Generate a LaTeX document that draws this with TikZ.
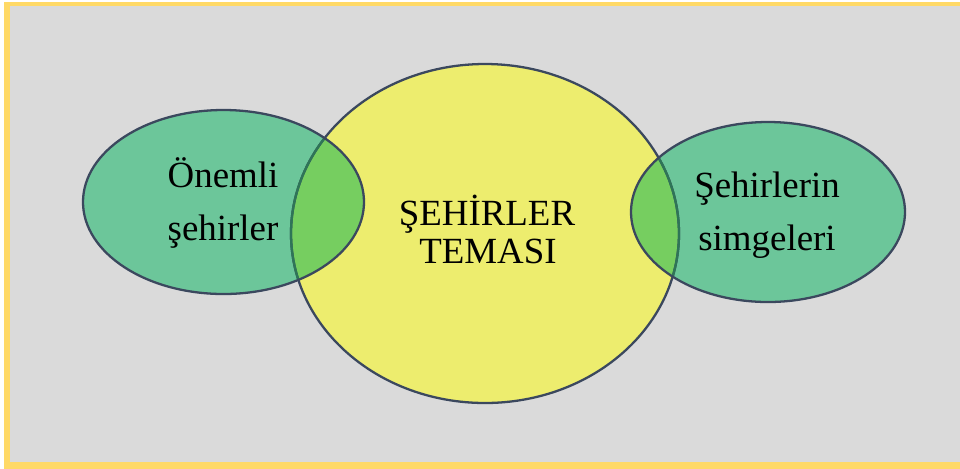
\documentclass[tikz,border=0pt]{standalone}
\usepackage{fontspec}
\setmainfont{Liberation Serif}
\definecolor{framegold}{HTML}{FFD966}
\definecolor{panelgray}{HTML}{DADADA}
\definecolor{themeyellow}{HTML}{EDED6E}
\definecolor{topicgreen}{HTML}{6CC69A}
\definecolor{lensgreen}{HTML}{76CE60}
\definecolor{edgeblue}{HTML}{3B485E}
\definecolor{edgegreen}{HTML}{2E7557}
\tikzset{
  outline/.style={draw=edgeblue, line width=1.3pt},
  hidden edge/.style={draw=edgegreen, line width=1.3pt},
  word/.style={font=\fontsize{21}{21}\selectfont, anchor=base, inner sep=0pt}
}
\begin{document}
\begin{tikzpicture}[x=0.02cm, y=-0.02cm]
  \useasboundingbox (0,0) rectangle (960,468);
  % panel and its gold band on the left, top and bottom
  \fill[white] (0,0) rectangle (1000,480);
  \fill[panelgray] (10,6) rectangle (1000,462);
  \fill[framegold] (4,1.5) rectangle (1000,6);
  \fill[framegold] (4,1.5) rectangle (10,480);
  \fill[framegold] (4,462) rectangle (1000,480);
  % shape centres
  \coordinate (theme) at (485,233.5);
  \coordinate (cities) at (223.5,202);
  \coordinate (symbols) at (768,212);
  % fills
  \fill[themeyellow] (theme) ellipse [x radius=194, y radius=169.5];
  \fill[topicgreen] (cities) ellipse [x radius=140.5, y radius=92];
  \fill[topicgreen] (symbols) ellipse [x radius=137, y radius=90];
  % overlap lenses
  \begin{scope}
    \clip (theme) ellipse [x radius=194, y radius=169.5];
    \fill[lensgreen] (cities) ellipse [x radius=140.5, y radius=92];
    \fill[lensgreen] (symbols) ellipse [x radius=137, y radius=90];
  \end{scope}
  % outlines
  \draw[outline] (theme) ellipse [x radius=194, y radius=169.5];
  \begin{scope}
    \clip (cities) ellipse [x radius=140.5, y radius=92];
    \draw[hidden edge] (theme) ellipse [x radius=194, y radius=169.5];
  \end{scope}
  \begin{scope}
    \clip (symbols) ellipse [x radius=137, y radius=90];
    \draw[hidden edge] (theme) ellipse [x radius=194, y radius=169.5];
  \end{scope}
  \draw[outline] (cities) ellipse [x radius=140.5, y radius=92];
  \draw[outline] (symbols) ellipse [x radius=137, y radius=90];
  % labels
  \node[word] (c1) at (223,187) {Önemli};
  \node[word] (c2) at (223,240) {şehirler};
  \node[word] (t1) at (487,225) {ŞEHİRLER};
  \node[word] (t2) at (488,263) {TEMASI};
  \node[word] (s1) at (767,197) {Şehirlerin};
  \node[word] (s2) at (767,250) {simgeleri};
\end{tikzpicture}
\end{document}
